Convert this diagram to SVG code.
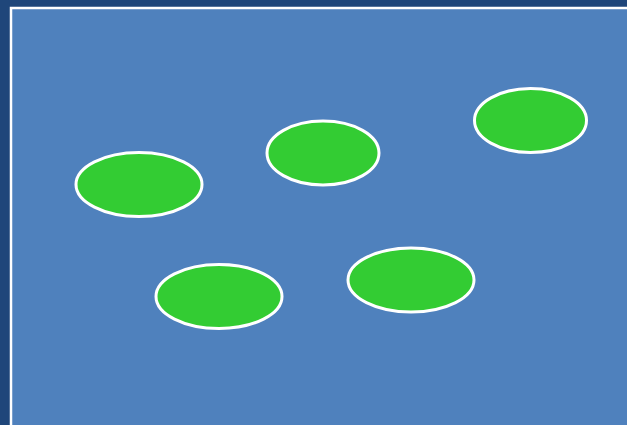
<svg xmlns="http://www.w3.org/2000/svg" width="627" height="425" viewBox="0 0 627 425">
<style>
.n{fill:#33cc33;stroke:#ffffff;stroke-width:3}
</style>
<rect x="0" y="0" width="627" height="425" fill="#1f467a"/>
<rect x="11" y="8" width="630" height="430" fill="#4f81bd" stroke="#ffffff" stroke-width="2.5"/>
<g id="connectors"></g>
<g id="n1"><ellipse class="n" cx="139" cy="184.5" rx="63" ry="32"/></g>
<g id="n2"><ellipse class="n" cx="323" cy="153" rx="56" ry="32"/></g>
<g id="n3"><ellipse class="n" cx="530.5" cy="120.5" rx="56" ry="32"/></g>
<g id="n4"><ellipse class="n" cx="219" cy="296.5" rx="63" ry="32"/></g>
<g id="n5"><ellipse class="n" cx="411" cy="280" rx="63" ry="32"/></g>
</svg>
